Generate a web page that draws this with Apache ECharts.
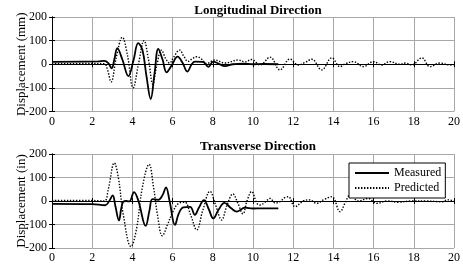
<!DOCTYPE html>
<html><head><meta charset="utf-8">
<script src="https://cdn.jsdelivr.net/npm/echarts@6/dist/echarts.min.js"></script>
<style>html,body{margin:0;padding:0;background:#fff}#c{width:463px;height:266px}</style>
</head><body><div id="c"></div>
<script>
// ---- data ----
var titles = ['Longitudinal Direction', 'Transverse Direction'];
var yNames = ['Displacement (mm)', 'Displacement (in)'];
var seriesNames = ['Measured', 'Predicted'];
var xTicks = [0, 2, 4, 6, 8, 10, 12, 14, 16, 18, 20];
var yTicks = [-200, -100, 0, 100, 200];

var longMeasT = [0, 2.3, 2.6, 2.8, 2.97, 3.1, 3.25, 3.5, 3.8, 4.05, 4.29, 4.5, 4.7, 4.91, 5.1, 5.29, 5.5, 5.7, 5.95, 6.25, 6.5, 6.73, 6.95, 7.11, 7.5, 7.78, 8.02, 8.3, 8.6, 9.0, 9.5, 10.0, 10.5, 11.26];
var longMeasV = [10, 12, 14, 5, -17, 20, 68, 20, -50, 15, 89, 60, -50, -147, -40, 65, 20, -34, -5, 32, 5, -31, 0, 11, 10, -11, 11, 2, -8, 0, 3, 0, 1, 0];

var longPredT = [0, 2.0, 2.6, 2.75, 2.94, 3.2, 3.5, 3.75, 4.04, 4.3, 4.58, 4.8, 5.02, 5.2, 5.45, 5.65, 5.85, 6.05, 6.35, 6.55, 6.77, 7.0, 7.2, 7.4, 7.7, 8.1, 8.6, 9.27, 9.6, 9.93, 10.35, 10.85, 11.34, 11.84, 12.25, 12.6, 12.92, 13.42, 13.92, 14.33, 14.6, 14.99, 15.49, 15.99, 16.4, 16.8, 17.3, 17.6, 17.9, 18.4, 18.8, 19.3, 19.8, 20];
var longPredV = [2, 3, 2, -20, -75, 30, 114, 40, -100, 0, 100, 20, -85, -10, 60, 25, 5, 30, 60, 35, 12, 25, 32, 25, 3, 18, 5, 18, 10, 20, -3, 30, -24, 22, -3, 8, 21, -24, 27, -10, 2, 11, -10, 11, -3, 11, 0, 5, -3, 27, -10, 5, -3, -2];

var tranMeasT = [0, 2.0, 2.64, 2.85, 3.02, 3.15, 3.33, 3.45, 3.55, 3.7, 3.85, 4.08, 4.3, 4.66, 4.85, 5.0, 5.29, 5.5, 5.67, 5.85, 6.12, 6.3, 6.53, 6.87, 7.11, 7.3, 7.56, 7.8, 8.02, 8.3, 8.58, 8.9, 9.2, 9.6, 10.0, 10.5, 11.26];
var tranMeasV = [-12, -13, -18, 0, 24, -20, -83, -30, -3, 0, -2, 38, 0, -106, -40, 8, 5, 25, 58, 0, -102, -55, -27, -25, -59, -30, 4, -35, -74, -35, -8, -30, -45, -28, -32, -31, -31];

var tranPredT = [0, 2.0, 2.6, 2.8, 3.1, 3.3, 3.55, 3.93, 4.2, 4.5, 4.83, 5.05, 5.25, 5.49, 5.75, 6.02, 6.3, 6.6, 6.9, 7.2, 7.5, 7.86, 8.15, 8.44, 8.7, 9.0, 9.25, 9.5, 9.7, 9.93, 10.2, 10.35, 10.6, 10.85, 11.1, 11.3, 11.6, 11.76, 12.09, 12.5, 12.8, 13.17, 13.5, 13.92, 14.33, 14.6, 14.83, 15.25, 15.74, 16.15, 16.7, 17.2, 17.9, 18.6, 19.4, 19.7, 20];
var tranPredV = [2, 2, 0, 50, 162, 100, -60, -194, -120, 60, 156, 60, -60, -148, -100, -45, -10, -5, -60, -123, -40, 41, -20, -81, -20, 30, -10, -55, 0, 40, -10, -17, -5, 11, -8, -5, 15, 18, -24, 0, 5, -10, 5, 18, -45, -5, 25, 0, 11, -10, 0, -5, 0, 0, -3, 5, 0];

function pairs(t, v) { return t.map(function (x, i) { return [x, v[i]]; }); }

var FONT = "'Liberation Serif','Times New Roman',serif";
var grids = [
  { left: 52, right: 9, top: 17, height: 94.5, containLabel: false, outerBoundsMode: 'none' },
  { left: 52, right: 9, top: 154, height: 94, containLabel: false, outerBoundsMode: 'none' }
];

var xAxes = [], yAxes = [], series = [], titleOpts = [];
grids.forEach(function (g, i) {
  titleOpts.push({
    text: titles[i], left: 253, textAlign: 'center', top: i === 0 ? -1 : 135,
    textStyle: { fontFamily: FONT, fontSize: 13, fontWeight: 'bold', color: '#000' }
  });
  xAxes.push({
    gridIndex: i, type: 'value', min: xTicks[0], max: xTicks[xTicks.length - 1], interval: 2,
    axisLine: { show: true, lineStyle: { color: '#000', width: 1 } },
    axisTick: { show: true, inside: true, length: 3, lineStyle: { color: '#000' } },
    axisLabel: { fontFamily: FONT, fontSize: 12, color: '#000', margin: 4 },
    splitLine: { show: true, lineStyle: { color: '#a8a8a8', width: 1 } }
  });
  xAxes.push({
    gridIndex: i, type: 'value', position: 'top', min: 0, max: 20, interval: 2,
    axisLine: { show: true, lineStyle: { color: '#000', width: 1 } },
    axisTick: { show: true, inside: true, length: 3, lineStyle: { color: '#000' } },
    axisLabel: { show: false }, splitLine: { show: false }
  });
  yAxes.push({
    gridIndex: i, type: 'value', min: yTicks[0], max: yTicks[yTicks.length - 1], interval: 100,
    name: yNames[i], nameLocation: 'middle', nameGap: 24, nameMoveOverlap: false,
    nameTextStyle: { fontFamily: FONT, fontSize: 13, color: '#000' },
    axisLine: { show: true, lineStyle: { color: '#000', width: 1 } },
    axisTick: { show: true, inside: true, length: 3, lineStyle: { color: '#000' } },
    axisLabel: { fontFamily: FONT, fontSize: 12, color: '#000', margin: 5 },
    splitLine: { show: true, lineStyle: { color: '#a8a8a8', width: 1 } }
  });
  yAxes.push({
    gridIndex: i, type: 'value', position: 'right', min: -200, max: 200, interval: 100,
    axisLine: { show: true, lineStyle: { color: '#000', width: 1 } },
    axisTick: { show: true, inside: true, length: 3, lineStyle: { color: '#000' } },
    axisLabel: { show: false }, splitLine: { show: false }
  });
});

var measData = [pairs(longMeasT, longMeasV), pairs(tranMeasT, tranMeasV)];
var predData = [pairs(longPredT, longPredV), pairs(tranPredT, tranPredV)];
[0, 1].forEach(function (i) {
  series.push({
    name: seriesNames[0], type: 'line', xAxisIndex: i * 2, yAxisIndex: i * 2,
    data: measData[i], smooth: 0.4, symbol: 'none',
    itemStyle: { color: '#000' },
    lineStyle: { color: '#000', width: 1.8, type: 'solid' }, z: 3
  });
  series.push({
    name: seriesNames[1], type: 'line', xAxisIndex: i * 2, yAxisIndex: i * 2,
    data: predData[i], smooth: 0.4, symbol: 'none',
    itemStyle: { color: '#000' },
    lineStyle: { color: '#000', width: 1.4, type: [1.4, 1.6] }, z: 2
  });
});

var chart = echarts.init(document.getElementById('c'), null, { renderer: 'canvas' });
chart.setOption({
  animation: false,
  backgroundColor: '#fff',
  title: titleOpts,
  grid: grids,
  xAxis: xAxes,
  yAxis: yAxes,
  legend: {
    data: seriesNames, orient: 'vertical', left: 349, top: 163,
    itemWidth: 34, itemHeight: 12, itemGap: 3, padding: [4, 4, 4, 5],
    borderColor: '#000', borderWidth: 1, backgroundColor: '#fff',
    itemStyle: { color: 'rgba(0,0,0,0)', borderWidth: 0, opacity: 0 },
    textStyle: { fontFamily: FONT, fontSize: 12, color: '#000' }
  },
  series: series
});
</script></body></html>
